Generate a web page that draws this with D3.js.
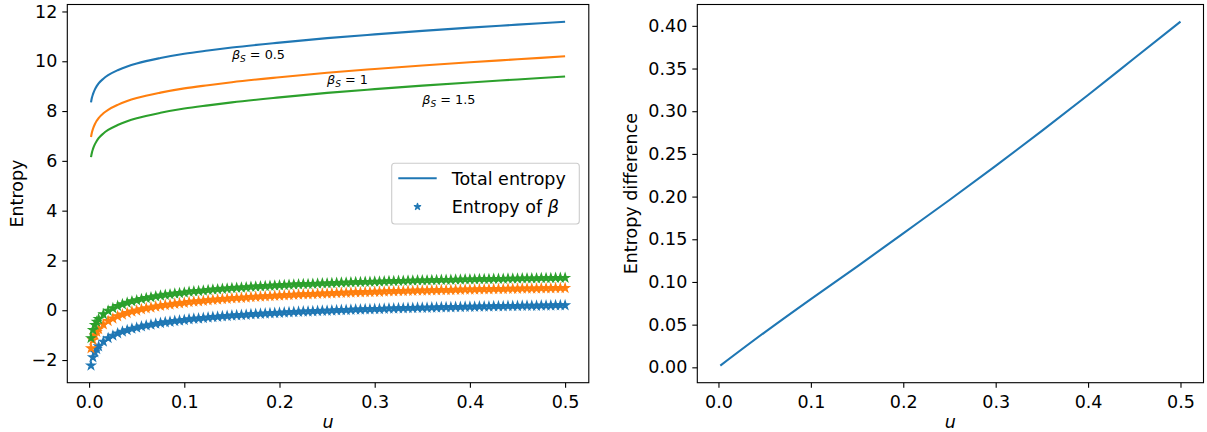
<!DOCTYPE html>
<html>
<head>
<meta charset="utf-8">
<script src="https://cdn.jsdelivr.net/npm/d3@7"></script>
<style>
body { margin: 0; background: #fff; }
svg text { font-family: "DejaVu Sans", sans-serif; }
</style>
</head>
<body>
<div id="chart"></div>
<script>
// total entropy curves, one per beta_S
var uLine = [0.002, 0.003, 0.004, 0.006, 0.008, 0.01, 0.015, 0.02, 0.03, 0.04, 0.05,
    0.075, 0.1, 0.125, 0.15, 0.2, 0.25, 0.3, 0.35, 0.4, 0.45, 0.5];
var totalHalf = [8.35, 8.54, 8.67, 8.86, 9.00, 9.11, 9.30, 9.44, 9.64, 9.79, 9.91,
    10.13, 10.30, 10.43, 10.55, 10.75, 10.93, 11.08, 11.22, 11.35, 11.47, 11.59];
var totalOne = [6.96, 7.15, 7.28, 7.47, 7.61, 7.72, 7.91, 8.05, 8.25, 8.40, 8.52,
    8.74, 8.91, 9.04, 9.16, 9.36, 9.54, 9.69, 9.83, 9.96, 10.08, 10.20];
var totalOneHalf = [6.15, 6.34, 6.47, 6.66, 6.80, 6.91, 7.10, 7.24, 7.44, 7.59, 7.71,
    7.93, 8.10, 8.23, 8.35, 8.55, 8.73, 8.88, 9.02, 9.15, 9.27, 9.39];

// entropy of beta (star markers)
var uStar = [0.002, 0.004, 0.006, 0.008, 0.010,
    0.015, 0.020, 0.025, 0.030, 0.035,
    0.040, 0.045, 0.050, 0.055, 0.060,
    0.065, 0.070, 0.075, 0.080, 0.085,
    0.090, 0.095, 0.100, 0.105, 0.110,
    0.115, 0.120, 0.125, 0.130, 0.135,
    0.140, 0.145, 0.150, 0.155, 0.160,
    0.165, 0.170, 0.175, 0.180, 0.185,
    0.190, 0.195, 0.200, 0.205, 0.210,
    0.215, 0.220, 0.225, 0.230, 0.235,
    0.240, 0.245, 0.250, 0.255, 0.260,
    0.265, 0.270, 0.275, 0.280, 0.285,
    0.290, 0.295, 0.300, 0.305, 0.310,
    0.315, 0.320, 0.325, 0.330, 0.335,
    0.340, 0.345, 0.350, 0.355, 0.360,
    0.365, 0.370, 0.375, 0.380, 0.385,
    0.390, 0.395, 0.400, 0.405, 0.410,
    0.415, 0.420, 0.425, 0.430, 0.435,
    0.440, 0.445, 0.450, 0.455, 0.460,
    0.465, 0.470, 0.475, 0.480, 0.485,
    0.490, 0.495, 0.500];
var betaHalf = [-2.22, -1.89, -1.69, -1.56, -1.45,
    -1.26, -1.12, -1.02, -0.93, -0.86,
    -0.80, -0.74, -0.70, -0.65, -0.61,
    -0.58, -0.54, -0.51, -0.48, -0.46,
    -0.43, -0.41, -0.39, -0.36, -0.34,
    -0.33, -0.31, -0.29, -0.27, -0.26,
    -0.24, -0.23, -0.21, -0.20, -0.19,
    -0.18, -0.16, -0.15, -0.14, -0.13,
    -0.12, -0.11, -0.10, -0.09, -0.08,
    -0.07, -0.06, -0.05, -0.05, -0.04,
    -0.03, -0.02, -0.02, -0.01, 0.00,
    0.01, 0.01, 0.02, 0.03, 0.03,
    0.04, 0.04, 0.05, 0.05, 0.06,
    0.07, 0.07, 0.08, 0.08, 0.09,
    0.09, 0.10, 0.10, 0.10, 0.11,
    0.11, 0.12, 0.12, 0.12, 0.13,
    0.13, 0.14, 0.14, 0.14, 0.15,
    0.15, 0.15, 0.16, 0.16, 0.16,
    0.17, 0.17, 0.17, 0.18, 0.18,
    0.18, 0.18, 0.19, 0.19, 0.19,
    0.20, 0.20, 0.20];
var betaOne = [-1.53, -1.20, -1.00, -0.87, -0.76,
    -0.57, -0.43, -0.33, -0.24, -0.17,
    -0.11, -0.05, -0.01, 0.04, 0.08,
    0.11, 0.15, 0.18, 0.21, 0.23,
    0.26, 0.28, 0.30, 0.33, 0.35,
    0.36, 0.38, 0.40, 0.42, 0.43,
    0.45, 0.46, 0.48, 0.49, 0.50,
    0.51, 0.53, 0.54, 0.55, 0.56,
    0.57, 0.58, 0.59, 0.60, 0.61,
    0.62, 0.63, 0.64, 0.64, 0.65,
    0.66, 0.67, 0.67, 0.68, 0.69,
    0.70, 0.70, 0.71, 0.72, 0.72,
    0.73, 0.73, 0.74, 0.74, 0.75,
    0.76, 0.76, 0.77, 0.77, 0.78,
    0.78, 0.79, 0.79, 0.79, 0.80,
    0.80, 0.81, 0.81, 0.81, 0.82,
    0.82, 0.83, 0.83, 0.83, 0.84,
    0.84, 0.84, 0.85, 0.85, 0.85,
    0.86, 0.86, 0.86, 0.87, 0.87,
    0.87, 0.87, 0.88, 0.88, 0.88,
    0.89, 0.89, 0.89];
var betaOneHalf = [-1.12, -0.79, -0.59, -0.46, -0.35,
    -0.16, -0.02, 0.08, 0.17, 0.24,
    0.30, 0.36, 0.40, 0.45, 0.49,
    0.52, 0.56, 0.59, 0.62, 0.64,
    0.67, 0.69, 0.71, 0.74, 0.76,
    0.77, 0.79, 0.81, 0.83, 0.84,
    0.86, 0.87, 0.89, 0.90, 0.91,
    0.92, 0.94, 0.95, 0.96, 0.97,
    0.98, 0.99, 1.00, 1.01, 1.02,
    1.03, 1.04, 1.05, 1.05, 1.06,
    1.07, 1.08, 1.08, 1.09, 1.10,
    1.11, 1.11, 1.12, 1.13, 1.13,
    1.14, 1.14, 1.15, 1.15, 1.16,
    1.17, 1.17, 1.18, 1.18, 1.19,
    1.19, 1.20, 1.20, 1.20, 1.21,
    1.21, 1.22, 1.22, 1.22, 1.23,
    1.23, 1.24, 1.24, 1.24, 1.25,
    1.25, 1.25, 1.26, 1.26, 1.26,
    1.27, 1.27, 1.27, 1.28, 1.28,
    1.28, 1.28, 1.29, 1.29, 1.29,
    1.30, 1.30, 1.30];

// right panel
var uDiff = [0.002, 0.05, 0.1, 0.15, 0.2, 0.25, 0.3, 0.35, 0.4, 0.45, 0.5];
var entropyDiff = [0.002, 0.041, 0.080, 0.118, 0.157, 0.196, 0.236, 0.277, 0.319, 0.362, 0.405];

var betaLabels = ["0.5", "1", "1.5"];
var labelU = [0.15, 0.25, 0.35];
var labelY = [10.1, 9.1, 8.3];

var xTicks = [0, 0.1, 0.2, 0.3, 0.4, 0.5];
var leftTicks = [-2, 0, 2, 4, 6, 8, 10, 12];
var rightTicks = [0, 0.05, 0.1, 0.15, 0.2, 0.25, 0.3, 0.35, 0.4];

var colors = ["#1f77b4", "#ff7f0e", "#2ca02c"];

var plotTop = 4.5, plotBottom = 382.7;
var fontSize = 17.5;

var svg = d3.select("#chart").append("svg")
    .attr("width", 1207)
    .attr("height", 432);

var xLeft = d3.scaleLinear().domain([-0.0229, 0.5249]).range([67.3, 588.8]);
var yLeft = d3.scaleLinear().domain([-2.91, 12.28]).range([plotBottom, plotTop]);
var xRight = d3.scaleLinear().domain([-0.0229, 0.5249]).range([697.3, 1203.5]);
var yRight = d3.scaleLinear().domain([-0.018, 0.425]).range([plotBottom, plotTop]);

function drawAxes(x, y, yTicks, yFormat, yLabel, yLabelX) {
    var gx = svg.append("g")
        .attr("transform", "translate(0," + plotBottom + ")")
        .call(d3.axisBottom(x).tickValues(xTicks).tickFormat(d3.format(".1f")).tickSize(5).tickPadding(8));
    var gy = svg.append("g")
        .attr("transform", "translate(" + x.range()[0] + ",0)")
        .call(d3.axisLeft(y).tickValues(yTicks).tickFormat(d3.format(yFormat)).tickSize(5).tickPadding(5));

    [gx, gy].forEach(function(g) {
        g.attr("font-size", fontSize).attr("font-family", "DejaVu Sans");
        g.select(".domain").remove();
        g.selectAll(".tick line").attr("stroke", "#000").attr("stroke-width", 1.1);
        g.selectAll(".tick text").attr("fill", "#000");
    });

    svg.append("rect")
        .attr("x", x.range()[0])
        .attr("y", plotTop)
        .attr("width", x.range()[1] - x.range()[0])
        .attr("height", plotBottom - plotTop)
        .attr("fill", "none")
        .attr("stroke", "#000")
        .attr("stroke-width", 1.1);

    svg.append("text")
        .attr("x", (x.range()[0] + x.range()[1]) / 2)
        .attr("y", 428)
        .attr("text-anchor", "middle")
        .attr("font-size", fontSize)
        .attr("font-style", "italic")
        .text("u");

    svg.append("text")
        .attr("transform", "translate(" + yLabelX + "," + (plotTop + plotBottom) / 2 + ") rotate(-90)")
        .attr("text-anchor", "middle")
        .attr("font-size", fontSize)
        .text(yLabel);
}

drawAxes(xLeft, yLeft, leftTicks, "d", "Entropy", 23);
drawAxes(xRight, yRight, rightTicks, ".2f", "Entropy difference", 637);

var lineLeft = d3.line()
    .x(function(d) { return xLeft(d[0]); })
    .y(function(d) { return yLeft(d[1]); })
    .curve(d3.curveMonotoneX);

var star = d3.symbol().type(d3.symbolStar).size(24);
var legendStar = d3.symbol().type(d3.symbolStar).size(16);

var totals = [totalHalf, totalOne, totalOneHalf];
var betas = [betaHalf, betaOne, betaOneHalf];

totals.forEach(function(series, i) {
    svg.append("path")
        .datum(d3.zip(uLine, series))
        .attr("d", lineLeft)
        .attr("fill", "none")
        .attr("stroke", colors[i])
        .attr("stroke-width", 2.1);

    svg.append("g").selectAll("path")
        .data(d3.zip(uStar, betas[i]))
        .enter().append("path")
        .attr("transform", function(d) { return "translate(" + xLeft(d[0]) + "," + yLeft(d[1]) + ")"; })
        .attr("d", star)
        .attr("fill", colors[i])
        .attr("stroke", colors[i])
        .attr("stroke-width", 1.1);

    var t = svg.append("text")
        .attr("x", xLeft(labelU[i]))
        .attr("y", yLeft(labelY[i]))
        .attr("font-size", 12.8);
    t.append("tspan").attr("font-style", "italic").text("β");
    t.append("tspan").attr("font-style", "italic").attr("font-size", 9).attr("dy", 3).text("S");
    t.append("tspan").attr("dy", -3).text(" = " + betaLabels[i]);
});

// legend
var legend = svg.append("g");
legend.append("rect")
    .attr("x", 391.7).attr("y", 163.3)
    .attr("width", 187.6).attr("height", 60.7)
    .attr("rx", 3)
    .attr("fill", "#fff").attr("fill-opacity", 0.8)
    .attr("stroke", "#cccccc").attr("stroke-width", 1.1);
legend.append("line")
    .attr("x1", 398.3).attr("x2", 436.7)
    .attr("y1", 178.3).attr("y2", 178.3)
    .attr("stroke", colors[0]).attr("stroke-width", 2.1);
legend.append("path")
    .attr("transform", "translate(417.5,206.7)")
    .attr("d", legendStar)
    .attr("fill", colors[0]).attr("stroke", colors[0]).attr("stroke-width", 1);
legend.append("text")
    .attr("x", 451.7).attr("y", 184.5)
    .attr("font-size", fontSize)
    .text("Total entropy");
var lt = legend.append("text")
    .attr("x", 451.7).attr("y", 213)
    .attr("font-size", fontSize);
lt.append("tspan").text("Entropy of ");
lt.append("tspan").attr("font-style", "italic").text("β");

// right panel line
svg.append("path")
    .datum(d3.zip(uDiff, entropyDiff))
    .attr("d", d3.line()
        .x(function(d) { return xRight(d[0]); })
        .y(function(d) { return yRight(d[1]); })
        .curve(d3.curveMonotoneX))
    .attr("fill", "none")
    .attr("stroke", colors[0])
    .attr("stroke-width", 2.1);
</script>
</body>
</html>
